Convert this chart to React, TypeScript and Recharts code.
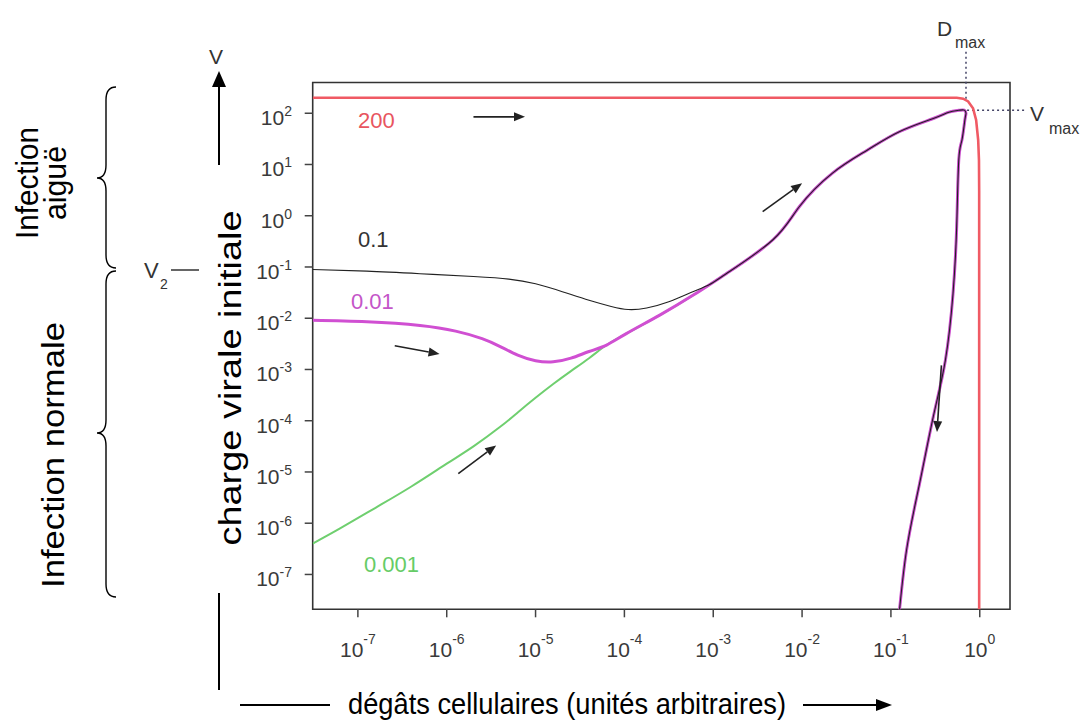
import { LineChart, Line, XAxis, YAxis, ReferenceLine, ReferenceArea } from 'recharts';

const FONT = '"Liberation Sans", Arial, Helvetica, sans-serif';

// axes (log)
const xTicks = [1e-7, 1e-6, 1e-5, 1e-4, 1e-3, 1e-2, 1e-1, 1];
const yTicks = [1e-7, 1e-6, 1e-5, 1e-4, 1e-3, 1e-2, 1e-1, 1, 10, 100];
const xDomain = [3.1e-8, 2.19];
const yDomain = [2.09e-8, 398];

// courbe rouge (V0 = 200)
const redX = [3.1e-8, 0.55, 0.65, 0.74, 0.84, 0.91, 0.96, 0.98, 0.985, 0.985];
const redY = [200, 200, 192, 170, 125, 74, 30, 12, 3, 1e-8];

// trajectoire commune (après convergence)
const commonX = [1.05e-4, 2.5e-4, 5.9e-4, 1.4e-3, 4.7e-3, 9.3e-3, 2.2e-2, 5.4e-2, 0.126, 0.3, 0.45, 0.58, 0.67, 0.7, 0.68, 0.63, 0.58, 0.55, 0.5, 0.41, 0.3, 0.21, 0.15, 0.12];
const commonY = [5.0e-3, 1.15e-2, 2.8e-2, 7.4e-2, 0.34, 1.5, 6.8, 19, 44, 79, 105, 114, 115, 100, 74, 30, 12, 0.62, 0.03, 1.5e-3, 1.2e-4, 5.9e-6, 3.0e-7, 1.0e-8];

// V0 = 0.1
const blackX = [3.1e-8, 1.26e-7, 5.0e-7, 2.0e-6, 5.0e-6, 1.0e-5, 2.0e-5, 4.0e-5, 7.1e-5, 1.1e-4, 1.78e-4, 3.16e-4, 5.6e-4, 9.1e-4];
const blackY = [0.089, 0.083, 0.074, 0.065, 0.058, 0.047, 0.033, 0.0224, 0.017, 0.0148, 0.0158, 0.0209, 0.0316, 0.0457];

// V0 = 0.01
const magX = [3.1e-8, 1.26e-7, 5.0e-7, 1.26e-6, 2.5e-6, 4.0e-6, 6.3e-6, 1.0e-5, 1.58e-5, 2.5e-5, 4.0e-5, 6.3e-5];
const magY = [9.1e-3, 8.5e-3, 7.2e-3, 5.6e-3, 4.0e-3, 2.8e-3, 1.9e-3, 1.48e-3, 1.41e-3, 1.66e-3, 2.24e-3, 3.0e-3];

// V0 = 0.001
const greenX = [3.1e-8, 6.3e-8, 1.58e-7, 4.0e-7, 1.0e-6, 2.0e-6, 4.0e-6, 6.3e-6, 1.0e-5, 1.58e-5, 2.5e-5, 4.0e-5, 6.3e-5];
const greenY = [4.0e-7, 7.9e-7, 2.0e-6, 5.2e-6, 1.45e-5, 3.16e-5, 7.6e-5, 1.45e-4, 2.8e-4, 5.2e-4, 9.3e-4, 1.66e-3, 3.0e-3];

// petites flèches dans le graphe
const arrowFromX = [2.0e-6, 2.6e-7, 1.35e-6, 3.6e-3, 0.37];
const arrowFromY = [85, 2.9e-3, 9.3e-6, 1.2, 1.2e-3];
const arrowToX = [7.6e-6, 8.3e-7, 3.6e-6, 1.0e-2, 0.33];
const arrowToY = [85, 2.0e-3, 3.3e-5, 4.3, 6.0e-5];

// Dmax / Vmax
const dMax = 0.7;
const vMax = 115;

const pts = (xs: number[], ys: number[]) => xs.map((x, i) => ({ x, y: ys[i] }));

const redData = pts(redX, redY);
const blackData = pts(blackX.concat(commonX.slice(3)), blackY.concat(commonY.slice(3)));
const magData = pts(magX.concat(commonX), magY.concat(commonY));
const greenData = pts(greenX.concat(commonX), greenY.concat(commonY));

const XTick = ({ x, y, payload }: any) => {
  const e = Math.round(Math.log10(payload.value));
  return (
    <text x={x} y={y + 38} textAnchor="middle" fill="#3a3a3a" fontFamily={FONT}>
      <tspan fontSize={21}>10</tspan>
      <tspan fontSize={14} dy={-13}>{e}</tspan>
    </text>
  );
};

const YTick = ({ x, y, payload }: any) => {
  const e = Math.round(Math.log10(payload.value));
  return (
    <text x={x} y={y + 12} textAnchor="end" fill="#3a3a3a" fontFamily={FONT}>
      <tspan fontSize={21}>10</tspan>
      <tspan fontSize={14} dy={-9}>{e}</tspan>
    </text>
  );
};

const ArrowShape = (props: any) => {
  const { x1, y1, x2, y2 } = props;
  const a = Math.atan2(y2 - y1, x2 - x1);
  const L = 11;
  const W = 4.5;
  const bx = x2 - L * Math.cos(a);
  const by = y2 - L * Math.sin(a);
  const p1 = `${bx + W * Math.sin(a)},${by - W * Math.cos(a)}`;
  const p2 = `${bx - W * Math.sin(a)},${by + W * Math.cos(a)}`;
  return (
    <g>
      <line x1={x1} y1={y1} x2={bx} y2={by} stroke="#222" strokeWidth={1.6} />
      <polygon points={`${x2},${y2} ${p1} ${p2}`} fill="#222" />
    </g>
  );
};

export default function App() {
  return (
    <div style={{ position: 'absolute', left: 0, top: 0, width: 1087, height: 727, background: '#fff' }}>
      <LineChart width={1087} height={727} margin={{ top: 82.5, right: 77, bottom: 67.7, left: 0 }}>
        <XAxis
          dataKey="x"
          type="number"
          scale="log"
          domain={xDomain}
          allowDataOverflow
          ticks={xTicks}
          tick={<XTick />}
          tickSize={8}
          axisLine={false}
          tickLine={{ stroke: '#444', strokeWidth: 1.5 }}
          height={50}
        />
        <YAxis
          dataKey="y"
          type="number"
          scale="log"
          domain={yDomain}
          allowDataOverflow
          ticks={yTicks}
          tick={<YTick />}
          tickSize={8}
          tickMargin={12.7}
          axisLine={false}
          tickLine={{ stroke: '#444', strokeWidth: 1.5 }}
          width={312.7}
        />
        <ReferenceArea
          x1={xDomain[0]}
          x2={xDomain[1]}
          y1={yDomain[0]}
          y2={yDomain[1]}
          fill="none"
          fillOpacity={0}
          stroke="#333"
          strokeWidth={1.6}
          ifOverflow="visible"
        />
        <ReferenceLine
          segment={[{ x: dMax, y: 1585 }, { x: dMax, y: 190 }]}
          stroke="#446"
          strokeWidth={1.5}
          strokeDasharray="2 3"
          ifOverflow="visible"
        />
        <ReferenceLine
          segment={[{ x: 0.72, y: vMax }, { x: 3.4, y: vMax }]}
          stroke="#446"
          strokeWidth={1.5}
          strokeDasharray="2 3"
          ifOverflow="visible"
        />
        <Line data={greenData} dataKey="y" type="natural" stroke="#6fcf6f" strokeWidth={2} dot={false} isAnimationActive={false} />
        <Line data={magData} dataKey="y" type="natural" stroke="#d04fd2" strokeWidth={3} dot={false} isAnimationActive={false} />
        <Line data={blackData} dataKey="y" type="natural" stroke="#222" strokeWidth={1.1} dot={false} isAnimationActive={false} />
        <Line data={redData} dataKey="y" type="linear" stroke="#f05a64" strokeWidth={2.6} dot={false} isAnimationActive={false} />
        {arrowFromX.map((fx, i) => (
          <ReferenceLine
            key={i}
            segment={[{ x: fx, y: arrowFromY[i] }, { x: arrowToX[i], y: arrowToY[i] }]}
            shape={<ArrowShape />}
            ifOverflow="visible"
          />
        ))}
      </LineChart>

      <svg
        width={1087}
        height={727}
        style={{ position: 'absolute', left: 0, top: 0, pointerEvents: 'none' }}
        fontFamily={FONT}
      >
        {/* étiquettes des courbes */}
        <text x={358} y={128} fontSize={22} fill="#e85560">200</text>
        <text x={358} y={247} fontSize={22} fill="#333">0.1</text>
        <text x={351} y={309} fontSize={22} fill="#c455c8">0.01</text>
        <text x={364} y={572} fontSize={22} fill="#66cc66">0.001</text>

        {/* Dmax / Vmax */}
        <text x={937} y={36} fontSize={21} fill="#333">D</text>
        <text x={955} y={48} fontSize={16} fill="#333">max</text>
        <text x={1030} y={121} fontSize={21} fill="#333">V</text>
        <text x={1049} y={134} fontSize={16} fill="#333">max</text>

        {/* axe vertical gauche */}
        <text x={216} y={64} fontSize={21} fill="#333" textAnchor="middle">V</text>
        <line x1={219} y1={165} x2={219} y2={86} stroke="#000" strokeWidth={2} />
        <polygon points="219,71 212,87 226,87" fill="#000" />
        <line x1={219} y1={593} x2={219} y2={690} stroke="#000" strokeWidth={2} />
        <text
          transform="translate(241,378) rotate(-90)"
          textAnchor="middle"
          fontSize={32}
          fill="#000"
          textLength={335}
          lengthAdjust="spacingAndGlyphs"
        >
          charge virale initiale
        </text>

        {/* V2 */}
        <text x={144} y={278} fontSize={22} fill="#333">V</text>
        <text x={160} y={289} fontSize={14} fill="#333">2</text>
        <line x1={171} y1={270} x2={199} y2={270} stroke="#333" strokeWidth={1.5} />

        {/* accolades */}
        <path
          d="M 116 87 Q 106 87 106 100 L 106 165 Q 106 178 97 178 Q 106 178 106 191 L 106 255 Q 106 268 116 268"
          fill="none"
          stroke="#000"
          strokeWidth={1.4}
        />
        <path
          d="M 116 271 Q 106 271 106 284 L 106 420 Q 106 433 97 433 Q 106 433 106 446 L 106 584 Q 106 597 116 597"
          fill="none"
          stroke="#000"
          strokeWidth={1.4}
        />
        <text
          transform="translate(38,183) rotate(-90)"
          textAnchor="middle"
          fontSize={32}
          fill="#000"
          textLength={112}
          lengthAdjust="spacingAndGlyphs"
        >
          Infection
        </text>
        <text
          transform="translate(66,183) rotate(-90)"
          textAnchor="middle"
          fontSize={32}
          fill="#000"
          textLength={74}
          lengthAdjust="spacingAndGlyphs"
        >
          aiguë
        </text>
        <text
          transform="translate(64,455) rotate(-90)"
          textAnchor="middle"
          fontSize={32}
          fill="#000"
          textLength={266}
          lengthAdjust="spacingAndGlyphs"
        >
          Infection normale
        </text>

        {/* axe horizontal bas */}
        <line x1={240} y1={705} x2={330} y2={705} stroke="#000" strokeWidth={2} />
        <g transform="translate(567,714) scale(1,1.12)">
          <text x={0} y={0} fontSize={27} fill="#000" textAnchor="middle" textLength={438} lengthAdjust="spacingAndGlyphs">
            dégâts cellulaires (unités arbitraires)
          </text>
        </g>
        <line x1={803} y1={705} x2={878} y2={705} stroke="#000" strokeWidth={2} />
        <polygon points="892,705 876,699 876,711" fill="#000" />
      </svg>
    </div>
  );
}
